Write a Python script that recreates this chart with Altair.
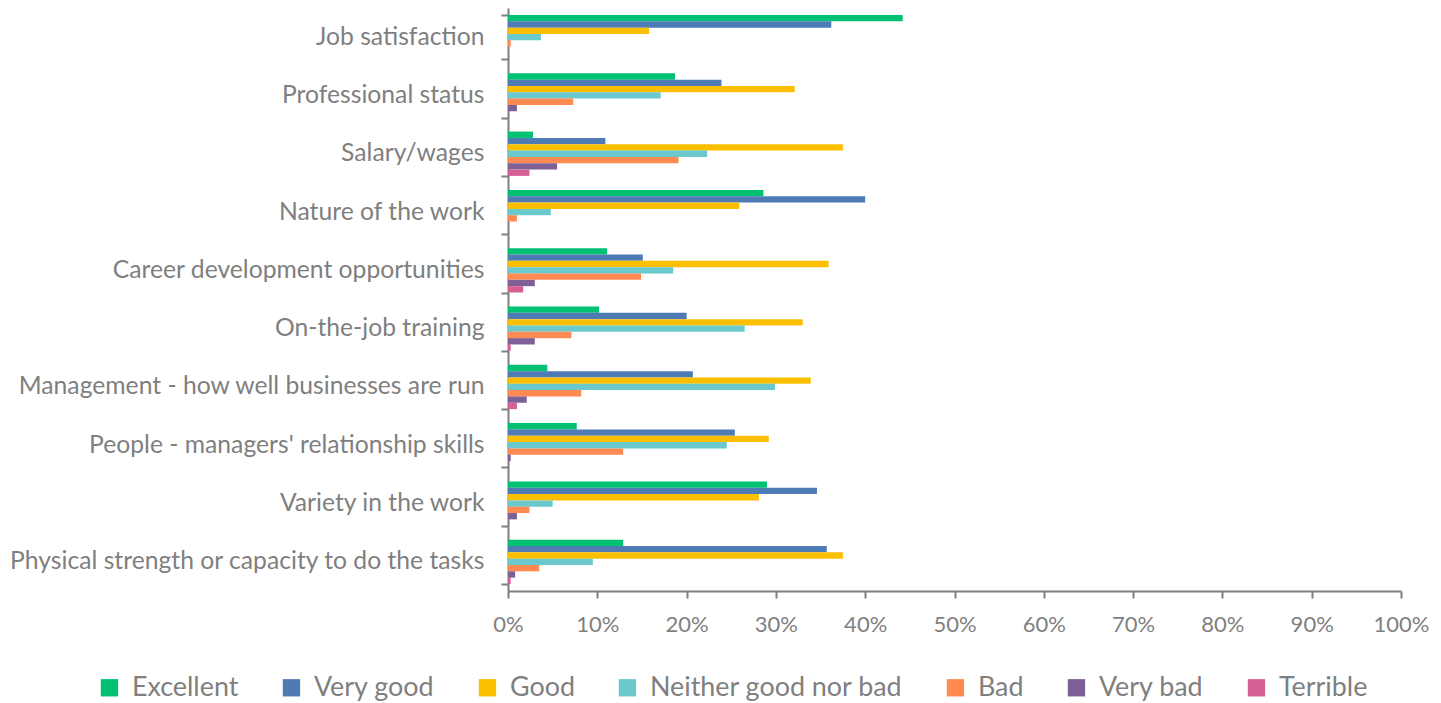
import altair as alt
import pandas as pd

categories = [
    "Job satisfaction",
    "Professional status",
    "Salary/wages",
    "Nature of the work",
    "Career development opportunities",
    "On-the-job training",
    "Management - how well businesses are run",
    "People - managers' relationship skills",
    "Variety in the work",
    "Physical strength or capacity to do the tasks",
]
series = ["Excellent", "Very good", "Good", "Neither good nor bad", "Bad", "Very bad", "Terrible"]
colors = ["#00C072", "#4F7BB5", "#FBBF00", "#6BC8CC", "#FF8B52", "#7E5F96", "#D65F94"]

excellent = [44.2, 18.7, 2.8, 28.6, 11.1, 10.2, 4.4, 7.7, 29.0, 12.9]
very_good = [36.2, 23.9, 10.9, 40.0, 15.1, 20.0, 20.7, 25.4, 34.6, 35.7]
good = [15.8, 32.1, 37.5, 25.9, 35.9, 33.0, 33.9, 29.2, 28.1, 37.5]
neither = [3.7, 17.1, 22.3, 4.8, 18.5, 26.5, 29.9, 24.5, 5.0, 9.5]
bad = [0.3, 7.3, 19.1, 1.0, 14.9, 7.1, 8.2, 12.9, 2.4, 3.5]
very_bad = [0.0, 1.0, 5.5, 0.0, 3.0, 3.0, 2.1, 0.3, 1.0, 0.8]
terrible = [0.0, 0.0, 2.4, 0.0, 1.7, 0.3, 1.0, 0.0, 0.0, 0.3]

values = [excellent, very_good, good, neither, bad, very_bad, terrible]
rows = []
for s, vals in zip(series, values):
    for c, v in zip(categories, vals):
        rows.append({"category": c, "series": s, "value": v / 100.0})
df = pd.DataFrame(rows)

FONT = "Lato"
GRAY = "#7F7F7F"

chart = (
    alt.Chart(df)
    .mark_bar()
    .encode(
        y=alt.Y(
            "category:N",
            sort=categories,
            title=None,
            scale=alt.Scale(paddingInner=0.24, paddingOuter=0.12),
            axis=alt.Axis(
                tickBand="extent",
                labelFont=FONT,
                labelFontSize=24.7,
                labelColor=GRAY,
                labelPadding=17,
                tickSize=7,
                tickColor=GRAY,
                tickWidth=2,
                domainColor=GRAY,
                domainWidth=2,
                labelLimit=600,
            ),
        ),
        yOffset=alt.YOffset("series:N", sort=series, scale=alt.Scale(paddingInner=0, paddingOuter=0)),
        x=alt.X(
            "value:Q",
            title=None,
            scale=alt.Scale(domain=[0, 1], nice=False),
            axis=alt.Axis(
                values=[0, 0.1, 0.2, 0.3, 0.4, 0.5, 0.6, 0.7, 0.8, 0.9, 1.0],
                format=".0%",
                grid=False,
                labelFont=FONT,
                labelFontSize=22,
                labelColor=GRAY,
                labelPadding=16,
                labelFlush=False,
                tickSize=7,
                tickColor=GRAY,
                tickWidth=2,
                domainColor=GRAY,
                domainWidth=2,
            ),
        ),
        color=alt.Color(
            "series:N",
            sort=series,
            scale=alt.Scale(domain=series, range=colors),
            legend=alt.Legend(
                title=None,
                orient="none",
                direction="horizontal",
                legendX=-412,
                legendY=666,
                symbolType="square",
                symbolSize=300,
                symbolStrokeWidth=0,
                symbolOpacity=1,
                labelFont=FONT,
                labelFontSize=26.9,
                labelColor=GRAY,
                labelOffset=9,
                columnPadding=39,
                labelLimit=400,
            ),
        ),
    )
    .properties(
        width=893,
        height=583,
        autosize=alt.AutoSizeParams(type="none"),
        padding={"left": 500, "top": 0, "right": 30, "bottom": 112},
    )
    .configure_view(stroke=None)
)

chart.save("out.html", embed_options={"renderer": "svg", "actions": False})
